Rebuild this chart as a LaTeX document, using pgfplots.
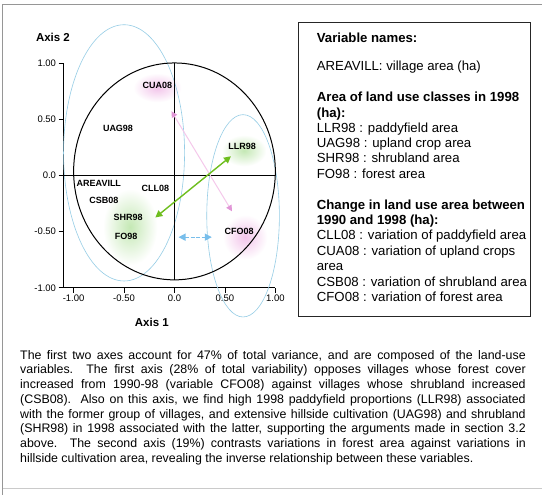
\documentclass[border=0pt]{standalone}
\usepackage{fontspec}
\setmainfont{Liberation Sans}
\usepackage{pgfplots}
\pgfplotsset{compat=1.18}
\usetikzlibrary{arrows.meta}
\definecolor{blobgreen}{RGB}{196,232,180}
\definecolor{blobpink}{RGB}{242,196,234}
\definecolor{ellblue}{RGB}{150,205,230}
\definecolor{arrgreen}{RGB}{110,190,30}
\definecolor{arrblue}{RGB}{120,190,235}
\definecolor{arrpink}{RGB}{225,150,215}
\definecolor{pinkline}{RGB}{245,200,235}
\definecolor{framegray}{RGB}{150,150,150}
\pgfplotstableread{
x y label
-0.17 0.80 CUA08
-0.56 0.42 UAG98
0.67 0.26 LLR98
-0.75 -0.07 AREAVILL
-0.19 -0.12 CLL08
-0.70 -0.22 CSB08
-0.46 -0.37 SHR98
-0.48 -0.54 FO98
0.64 -0.50 CFO08
}\vartable
\pgfplotsset{corrframe/.style={
  at={(63,184)}, anchor=south west, scale only axis,
  width=212pt, height=225pt,
  xmin=-1.1, xmax=1.0, ymin=-1.0, ymax=1.0, clip=false}}
\begin{document}
\begin{tikzpicture}[x=1pt,y=1pt]
\path[fill=white] (0,0) rectangle (542,495);
% outer frame
\draw[framegray, line width=1pt] (3,0) -- (3,490) -- (542,490);
\draw[framegray!50, line width=0.8pt] (3,6) -- (542,6);
% legend box
\draw[black!85, line width=0.8pt] (299,473) rectangle (531,178);
\begin{scope}[every node/.style={anchor=mid west, inner sep=0pt, font=\fontsize{13.2}{15}\selectfont}]
\node at (317,495-40) {\bfseries Variable names:};
\node at (317,495-68) {AREAVILL: village area (ha)};
\node at (317,495-99) {\bfseries Area of land use classes in 1998};
\node at (317,495-114.5) {\bfseries (ha):};
\node at (317,495-130) {LLR98 : paddyfield area};
\node at (317,495-145) {UAG98 : upland crop area};
\node at (317,495-160.5) {SHR98 : shrubland area};
\node at (317,495-176) {FO98 : forest area};
\node at (317,495-207) {\bfseries Change in land use area between};
\node at (317,495-222) {\bfseries 1990 and 1998 (ha):};
\node at (317,495-237.5) {CLL08 : variation of paddyfield area};
\node at (317,495-253) {CUA08 : variation of upland crops};
\node at (317,495-268.5) {area};
\node at (317,495-284) {CSB08 : variation of shrubland area};
\node at (317,495-299.5) {CFO08 : variation of forest area};
\end{scope}
% caption
\begin{scope}[every node/.style={anchor=mid west, inner sep=0pt, font=\fontsize{12.4}{14}\selectfont}]
\node at (20,495-357) {\makebox[506pt][s]{The first two axes account for 47\% of total variance, and are composed of the land-use}};
\node at (20,495-371.7) {\makebox[506pt][s]{variables.\ \ The first axis (28\% of total variability) opposes villages whose forest cover}};
\node at (20,495-386.4) {\makebox[506pt][s]{increased from 1990-98 (variable CFO08) against villages whose shrubland increased}};
\node at (20,495-401.1) {\makebox[506pt][s]{(CSB08).\ \ Also on this axis, we find high 1998 paddyfield proportions (LLR98) associated}};
\node at (20,495-415.8) {\makebox[506pt][s]{with the former group of villages, and extensive hillside cultivation (UAG98) and shrubland}};
\node at (20,495-430.5) {\makebox[506pt][s]{(SHR98) in 1998 associated with the latter, supporting the arguments made in section 3.2}};
\node at (20,495-445.2) {\makebox[506pt][s]{above.\ \ The second axis (19\%) contrasts variations in forest area against variations in}};
\node at (20,495-459.9) {hillside cultivation area, revealing the inverse relationship between these variables.};
\end{scope}
% axis titles
\node[font=\bfseries\fontsize{11.5}{13}\selectfont] at (53,495-37) {Axis 2};
\node[font=\bfseries\fontsize{11.5}{13}\selectfont] at (152,495-323) {Axis 1};
% background axis: soft highlight blobs
\begin{axis}[corrframe, hide axis]
\shade[inner color=blobpink, outer color=white] (axis cs:-0.17,0.78) ellipse [x radius=0.24, y radius=0.13];
\shade[inner color=blobpink, outer color=white] (axis cs:0.70,-0.55) ellipse [x radius=0.22, y radius=0.2];
\shade[inner color=blobgreen, outer color=white] (axis cs:0.69,0.22) ellipse [x radius=0.22, y radius=0.14];
\shade[inner color=blobgreen, outer color=white] (axis cs:-0.44,-0.46) ellipse [x radius=0.27, y radius=0.34];
\end{axis}
\begin{axis}[
  corrframe,
  axis x line*=bottom, axis y line*=left,
  axis line style={line width=1.1pt, black},
  xtick={-1,-0.5,0,0.5,1}, xticklabels={-1.00,-0.50,0.0,0.50,1.00},
  ytick={-1,-0.5,0,0.5,1}, yticklabels={-1.00,-0.50,0.0,0.50,1.00},
  tick align=outside, major tick length=5pt,
  tick style={line width=0.8pt, black},
  tick label style={font=\fontsize{9.5}{10}\selectfont},
  xticklabel style={yshift=1pt}, yticklabel style={xshift=1pt},
  /pgf/number format/assume math mode=true,
]
% light blue enclosing ellipses
\draw[ellblue, line width=0.6pt] (axis cs:-0.5,0.2) ellipse [x radius=0.6, y radius=1.14];
\draw[ellblue, line width=0.6pt] (axis cs:0.68,-0.36) ellipse [x radius=0.36, y radius=0.9];
% correlation circle and cross
\draw[black, line width=1pt] (axis cs:0,0.035) ellipse [x radius=1.0, y radius=0.965];
\draw[black, line width=1pt] (axis cs:-1.1,0) -- (axis cs:1,0);
\draw[black, line width=1pt] (axis cs:0,1) -- (axis cs:0,-0.93);
% arrows
\addplot[pinkline, line width=1pt, arrows={Triangle[length=6pt,width=6pt,color=arrpink]-Triangle[length=6pt,width=6pt,color=arrpink]}] coordinates {(-0.03,0.57) (0.57,-0.32)};
\addplot[arrgreen, line width=1.4pt, arrows={Triangle[length=7pt,width=7pt]-Triangle[length=7pt,width=7pt]}] coordinates {(-0.19,-0.375) (0.56,0.17)};
\addplot[arrblue, line width=1.3pt, dash pattern=on 4pt off 1.5pt, arrows={Triangle[length=7pt,width=7pt]-Triangle[length=7pt,width=7pt]}] coordinates {(0.04,-0.55) (0.37,-0.55)};
% variable labels
\addplot[only marks, mark=*, mark size=0.01pt, mark options={draw=none,fill=none},
  nodes near coords, point meta=explicit symbolic,
  nodes near coords style={anchor=center, inner sep=0pt, font=\bfseries\fontsize{9}{10}\selectfont, black}]
  table[x=x, y=y, meta=label] {\vartable};
\end{axis}
\end{tikzpicture}
\end{document}
